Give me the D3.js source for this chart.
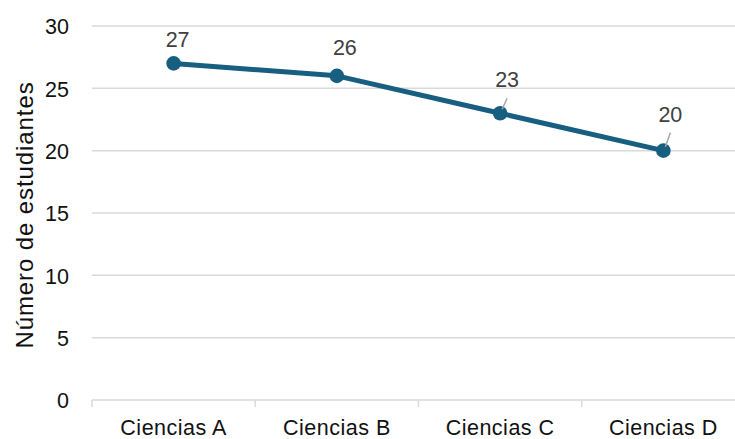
<!DOCTYPE html>
<html>
<head>
<meta charset="utf-8">
<script src="https://cdn.jsdelivr.net/npm/d3@7/dist/d3.min.js"></script>
<style>
  html, body { margin: 0; padding: 0; background: #fff; }
  svg { display: block; font-family: "Liberation Sans", Arial, sans-serif; }
</style>
</head>
<body>
<svg id="chart" width="735" height="439"></svg>
<script>
// Students enrolled per science course
const categories = ["Ciencias A", "Ciencias B", "Ciencias C", "Ciencias D"];
const students = [27, 26, 23, 20];
const yTicks = [0, 5, 10, 15, 20, 25, 30];
const yTitle = "Número de estudiantes";

// Label placement relative to each point (dx, dy in px) and whether a leader line is drawn
const labelOffsets = [[4, -16], [8, -21], [7, -26], [7, -29]];
const leaders = [false, false, true, true];

const svg = d3.select("#chart");
const margin = { left: 92, right: -10, top: 26, bottom: 39 };
const W = 735, H = 439;

const x = d3.scaleBand().domain(categories).range([margin.left, W - margin.right]);
const y = d3.scaleLinear().domain([0, 30]).range([H - margin.bottom, margin.top]);

const lineColor = "#175e80";
const fontSize = 21.5;

// Horizontal gridlines
svg.append("g").selectAll("line").data(yTicks.filter(d => d > 0)).join("line")
  .attr("x1", margin.left).attr("x2", W - margin.right)
  .attr("y1", d => y(d)).attr("y2", d => y(d))
  .attr("stroke", "#d9d9d9").attr("stroke-width", 1.5);

// Category axis with boundary ticks
const xAxis = svg.append("g").attr("transform", `translate(0,${y(0)})`);
xAxis.append("line")
  .attr("x1", margin.left).attr("x2", W - margin.right)
  .attr("stroke", "#d9d9d9").attr("stroke-width", 1.5);
const bounds = categories.map(c => x(c)).concat([x(categories[categories.length - 1]) + x.bandwidth()]);
xAxis.selectAll("line.tk").data(bounds).join("line").attr("class", "tk")
  .attr("x1", d => d).attr("x2", d => d).attr("y1", 0).attr("y2", 7)
  .attr("stroke", "#d9d9d9").attr("stroke-width", 1.5);
xAxis.selectAll("text").data(categories).join("text")
  .attr("x", d => x(d) + x.bandwidth() / 2).attr("y", 34.5)
  .attr("text-anchor", "middle").attr("font-size", fontSize).attr("fill", "#111")
  .attr("letter-spacing", 0.5)
  .text(d => d);

// Value axis labels
const yAxis = svg.append("g").attr("transform", `translate(${margin.left},0)`)
  .call(d3.axisLeft(y).tickValues(yTicks).tickSize(0).tickPadding(23));
yAxis.select(".domain").remove();
yAxis.selectAll("text").attr("font-size", fontSize).attr("fill", "#111")
  .attr("font-family", "Liberation Sans, Arial, sans-serif")
  .attr("dy", "0.36em");

// Axis title
svg.append("text")
  .attr("transform", `translate(33,${(y(0) + y(30)) / 2 + 2}) rotate(-90)`)
  .attr("text-anchor", "middle").attr("font-size", 24).attr("fill", "#111")
  .attr("letter-spacing", 0.9)
  .text(yTitle);

// Series line and markers
const pts = categories.map((c, i) => ({ c, v: students[i], px: x(c) + x.bandwidth() / 2, py: y(students[i]) }));
svg.append("path").datum(pts)
  .attr("d", d3.line().x(d => d.px).y(d => d.py))
  .attr("fill", "none").attr("stroke", lineColor).attr("stroke-width", 5)
  .attr("stroke-linejoin", "round");
svg.append("g").selectAll("circle").data(pts).join("circle")
  .attr("cx", d => d.px).attr("cy", d => d.py).attr("r", 7.3)
  .attr("fill", lineColor);

// Leader lines for labels pulled away from their points
svg.append("g").selectAll("line").data(pts.filter((d, i) => leaders[i])).join("line")
  .attr("x1", d => d.px + 2).attr("y1", d => d.py - 4)
  .attr("x2", (d) => d.px + labelOffsets[pts.indexOf(d)][0]).attr("y2", d => d.py + labelOffsets[pts.indexOf(d)][1] + 11)
  .attr("stroke", "#a6a6a6").attr("stroke-width", 1.5);

// Data labels
svg.append("g").selectAll("text").data(pts).join("text")
  .attr("x", (d, i) => d.px + labelOffsets[i][0])
  .attr("y", (d, i) => d.py + labelOffsets[i][1])
  .attr("text-anchor", "middle").attr("font-size", fontSize).attr("fill", "#404040")
  .text(d => d.v);
</script>
</body>
</html>
